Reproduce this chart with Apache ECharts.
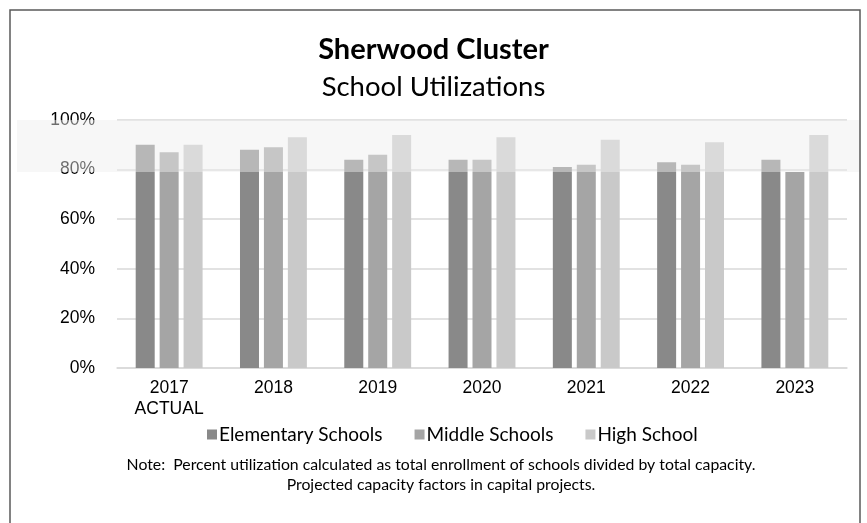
<!DOCTYPE html>
<html>
<head>
<meta charset="utf-8">
<script src="https://cdn.jsdelivr.net/npm/echarts@6/dist/echarts.min.js"></script>
<style>html,body{margin:0;padding:0;background:#fff}#c{width:867px;height:523px}</style>
</head>
<body>
<div id="c"></div>
<script>
const categories = ['2017\nACTUAL', '2018', '2019', '2020', '2021', '2022', '2023'];
const elementary = [90, 88, 84, 84, 81, 83, 84];
const middle = [87, 89, 86, 84, 82, 82, 79];
const high = [90, 93, 94, 93, 92, 91, 94];
const yTicks = [0, 20, 40, 60, 80, 100];
const seriesNames = ['Elementary Schools', 'Middle Schools', 'High School'];
const bandRange = [79, 100];

const chart = echarts.init(document.getElementById('c'), null, {renderer: 'canvas'});
const colors = ['#898989', '#a5a5a5', '#c9c9c9'];
const option = {
  animation: false,
  backgroundColor: '#fff',
  color: colors,
  title: [
    {text: 'Sherwood Cluster', left: 'center', top: 30, textStyle: {fontFamily: 'Lato', fontWeight: 'bold', fontSize: 29, color: '#000'}},
    {text: 'School Utilizations', left: 'center', top: 68, textStyle: {fontFamily: 'Lato', fontWeight: 'normal', fontSize: 27.5, color: '#000'}},
    {text: 'Note:  Percent utilization calculated as total enrollment of schools divided by total capacity.\nProjected capacity factors in capital projects.',
     left: 436, textAlign: 'center', top: 450, textStyle: {fontFamily: 'Lato', fontWeight: 'normal', fontSize: 15.8, lineHeight: 20, color: '#000'}}
  ],
  legend: {
    data: seriesNames, top: 420, left: 202, itemWidth: 10, itemHeight: 10, itemGap: 32,
    icon: 'rect',
    textStyle: {fontFamily: 'Lato', fontSize: 19, color: '#000', padding: [0, 0, 0, -3]}
  },
  grid: {left: 117, right: 20, top: 120, bottom: 155, containLabel: false},
  xAxis: {
    type: 'category', data: categories,
    axisLine: {lineStyle: {color: '#d9d9d9', width: 1.5}},
    axisTick: {show: false},
    axisLabel: {fontFamily: 'Liberation Sans', fontSize: 17.5, color: '#000', margin: 10, lineHeight: 21}
  },
  yAxis: {
    type: 'value', min: 0, max: 100, interval: 20,
    axisLine: {show: false}, axisTick: {show: false},
    splitLine: {lineStyle: {color: '#d9d9d9', width: 1.5}},
    axisLabel: {fontFamily: 'Liberation Sans', fontSize: 17.5, color: '#000', margin: 22,
      formatter: v => yTicks.includes(v) ? v + '%' : ''}
  },
  series: [
    {name: seriesNames[0], type: 'bar', data: elementary, barWidth: 19, barGap: '26%'},
    {name: seriesNames[1], type: 'bar', data: middle, barWidth: 19, barGap: '26%'},
    {name: seriesNames[2], type: 'bar', data: high, barWidth: 19, barGap: '26%'}
  ]
};
chart.setOption(option);
const yTop = chart.convertToPixel({yAxisIndex: 0}, bandRange[1]);
const yBot = chart.convertToPixel({yAxisIndex: 0}, bandRange[0]);
chart.setOption({
  graphic: [
    {type: 'rect', z: 100, shape: {x: 17, y: yTop, width: 843, height: yBot - yTop}, style: {fill: 'rgba(238,238,238,0.46)'}},
    {type: 'rect', z: 101, shape: {x: 10, y: 10, width: 850, height: 530}, style: {fill: 'none', stroke: '#595959', lineWidth: 1.5}}
  ]
});
</script>
</body>
</html>
